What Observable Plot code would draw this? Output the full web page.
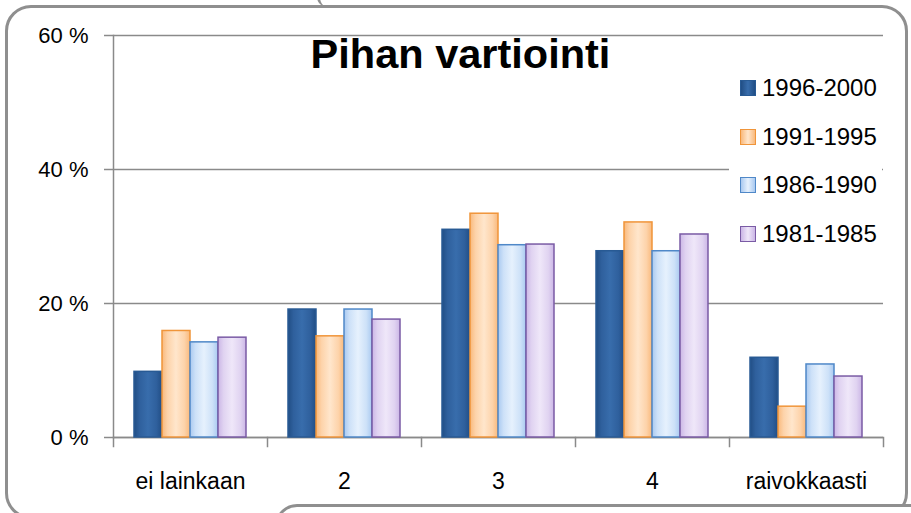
<!DOCTYPE html>
<html>
<head>
<meta charset="utf-8">
<script src="https://cdn.jsdelivr.net/npm/d3@7"></script>
<script src="https://cdn.jsdelivr.net/npm/@observablehq/plot@0.6"></script>
<style>
html, body { margin: 0; padding: 0; background: #fff; }
#wrap { position: relative; width: 911px; height: 513px; overflow: hidden; font-family: "Liberation Sans", Arial, sans-serif; color: #000; }
.box { position: absolute; border: 3px solid #8f8f8f; box-sizing: border-box; }
#frameMain { left: 5px; top: 5px; width: 903px; height: 514px; border-radius: 26px; }
#frameTop { left: 317px; top: -40px; width: 600px; height: 47px; border-top: none; border-right: none; border-bottom: none; border-radius: 0 0 0 10px; }
#frameBottom { left: 275px; top: 504px; width: 700px; height: 80px; border-radius: 22px; background: #fff; }
#chart { position: absolute; left: 0; top: 0; }
#title { position: absolute; left: 0; width: 921px; top: 33px; text-align: center; font-weight: bold; font-size: 41.5px; line-height: 41.5px; }
#legend { position: absolute; left: 729px; top: 62px; width: 153px; height: 192px; background: #fff; padding: 14px 0 0 11px; box-sizing: border-box; }
.row { display: flex; align-items: center; height: 24px; margin-bottom: 24.6px; font-size: 24px; line-height: 24px; }
.sw { width: 16px; height: 16px; box-sizing: border-box; border: 1.5px solid; margin-right: 6px; flex: none; }
</style>
</head>
<body>
<div id="wrap">
  <div id="chart"></div>
  <div class="box" id="frameMain"></div>
  <div class="box" id="frameTop"></div>
  <div class="box" id="frameBottom"></div>
  <div id="title"></div>
  <div id="legend"></div>
</div>
<script>
// ---- data ----
const titleText = "Pihan vartiointi";
const categories = ["ei lainkaan", "2", "3", "4", "raivokkaasti"];
const series = ["1996-2000", "1991-1995", "1986-1990", "1981-1985"];
const v1996_2000 = [9.8, 19.1, 31.0, 27.8, 11.9];
const v1991_1995 = [15.9, 15.1, 33.4, 32.1, 4.6];
const v1986_1990 = [14.2, 19.1, 28.7, 27.8, 10.9];
const v1981_1985 = [14.9, 17.6, 28.8, 30.3, 9.1];
const yTicks = [0, 20, 40, 60];

// ---- styles ----
const strokes = ["#285a94", "#f0953a", "#4f88c8", "#7a5ba5"];
const gradStops = [
  ["#214e85", "#2f609d", "#386dac", "#2f609d", "#214e85"],
  ["#f9b97c", "#fdd3aa", "#ffe6cc", "#fdd3aa", "#f9b97c"],
  ["#a9c9f0", "#cde1f8", "#e6f1fd", "#cde1f8", "#a9c9f0"],
  ["#cbb6e6", "#e0d3f1", "#efe7f9", "#e0d3f1", "#cbb6e6"]
];
const stopOffsets = [0, 0.2, 0.5, 0.8, 1];
const axisGray = "#8a8a8a";

const valuesBySeries = [v1996_2000, v1991_1995, v1986_1990, v1981_1985];
const rows = [];
series.forEach((s, i) => categories.forEach((c, j) => rows.push({category: c, series: s, value: valuesBySeries[i][j]})));

const W = 911, H = 513, mT = 35, mB = 76, mL = 112, mR = 28;
const innerH = H - mT - mB;

const barMarks = series.map((s, i) =>
  Plot.barY(rows.filter(d => d.series === s), {
    fx: "category", x: "series", y: "value",
    fill: `url(#grad${i})`, stroke: strokes[i], strokeWidth: 1.5
  })
);

const svg = Plot.plot({
  width: W, height: H,
  marginTop: mT, marginBottom: mB, marginLeft: mL, marginRight: mR,
  style: {fontFamily: '"Liberation Sans", Arial, sans-serif', color: "#000", background: "transparent", overflow: "visible"},
  fx: {domain: categories, padding: 0, label: null},
  x: {domain: series, paddingInner: 0, paddingOuter: 0.72, axis: null},
  y: {domain: [0, 60], label: null},
  marks: [
    Plot.gridY(yTicks, {stroke: axisGray, strokeOpacity: 1, strokeWidth: 1.5}),
    Plot.axisY(yTicks, {tickSize: 9, tickPadding: 16, tickFormat: d => `${d} %`, label: null, stroke: axisGray, strokeWidth: 1.5, fontSize: 22}),
    Plot.frame({anchor: "left", facetAnchor: "left", stroke: axisGray, strokeWidth: 1.5}),
    Plot.ruleY([0], {stroke: axisGray, strokeWidth: 1.5}),
    Plot.frame({anchor: "left", insetTop: innerH, insetBottom: -9, stroke: axisGray, strokeWidth: 1.5}),
    Plot.frame({anchor: "right", facetAnchor: "right", insetTop: innerH, insetBottom: -9, stroke: axisGray, strokeWidth: 1.5}),
    ...barMarks,
    Plot.axisFx({anchor: "bottom", tickSize: 0, tickPadding: 35, label: null, fontSize: 23})
  ]
});

// gradients
const defs = d3.select(svg).insert("defs", ":first-child");
gradStops.forEach((stops, i) => {
  const g = defs.append("linearGradient").attr("id", `grad${i}`).attr("x1", "0").attr("x2", "1").attr("y1", "0").attr("y2", "0");
  stops.forEach((c, k) => g.append("stop").attr("offset", stopOffsets[k]).attr("stop-color", c));
});

document.getElementById("chart").appendChild(svg);
document.getElementById("title").textContent = titleText;

// legend
const legend = d3.select("#legend");
series.forEach((s, i) => {
  const r = legend.append("div").attr("class", "row");
  const st = gradStops[i];
  r.append("span").attr("class", "sw")
    .style("border-color", strokes[i])
    .style("background", `linear-gradient(90deg, ${st[0]}, ${st[2]}, ${st[4]})`);
  r.append("span").text(s);
});
</script>
</body>
</html>
